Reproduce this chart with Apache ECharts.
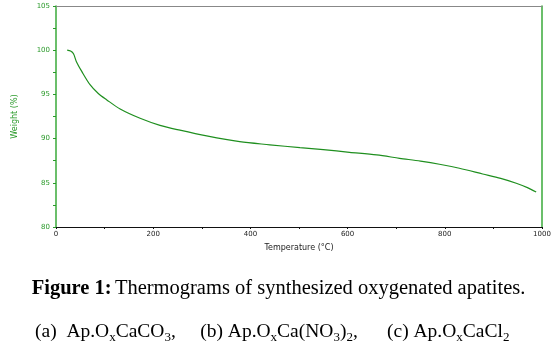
<!DOCTYPE html>
<html>
<head>
<meta charset="utf-8">
<script src="https://cdn.jsdelivr.net/npm/echarts@6/dist/echarts.min.js"></script>
<style>
  html, body { margin: 0; padding: 0; background: #fff; }
  #chart { width: 557px; height: 353px; }
</style>
</head>
<body>
<div id="chart"></div>
<script>
// temperature (°C) and weight (%)
var temps   = [23, 30, 36, 42, 53, 70, 87, 104, 132, 173, 214, 255, 310, 378, 440, 502, 550, 604, 660, 707, 750, 789, 830, 878, 915, 947, 970, 988];
var weights = [100.0, 99.9, 99.6, 98.7, 97.6, 96.1, 95.1, 94.4, 93.35, 92.3, 91.5, 90.95, 90.3, 89.65, 89.3, 88.97, 88.75, 88.45, 88.15, 87.77, 87.45, 87.1, 86.65, 86.0, 85.5, 84.95, 84.45, 83.95];
var xTicks = [0, 200, 400, 600, 800, 1000];

var points = temps.map(function (t, i) { return [t, weights[i]]; });

var green = '#2a9a2a';
var chart = echarts.init(document.getElementById('chart'));
var option = {
  animation: false,
  grid: { left: 56, right: 15, top: 6, bottom: 126 },
  xAxis: [{
    type: 'value', min: 0, max: 1000, interval: 200,
    name: 'Temperature (°C)', nameLocation: 'middle', nameGap: 17,
    nameTextStyle: { color: '#222', fontSize: 8, fontFamily: 'DejaVu Sans', letterSpacing: 1 },
    axisLine: { show: true, onZero: false, lineStyle: { color: '#111', width: 1 } },
    axisTick: { show: true, length: 2, lineStyle: { color: '#111' } },
    minorTick: { show: true, splitNumber: 2, length: 2, lineStyle: { color: '#111' } },
    axisLabel: { color: '#222', fontSize: 7, fontFamily: 'DejaVu Sans', margin: 4,
      formatter: function (v) { return xTicks.indexOf(v) >= 0 ? String(v) : ''; } },
    splitLine: { show: false }
  }, {
    type: 'value', position: 'top', min: 0, max: 1000,
    axisLine: { show: true, onZero: false, lineStyle: { color: '#888' } },
    axisTick: { show: false }, axisLabel: { show: false }, splitLine: { show: false }
  }],
  yAxis: [{
    type: 'value', min: 80, max: 105, interval: 5,
    name: 'Weight (%)', nameLocation: 'middle', nameGap: 37,
    nameTextStyle: { color: green, fontSize: 8, fontFamily: 'DejaVu Sans' },
    axisLine: { show: true, onZero: false, lineStyle: { color: '#3aaa3a', width: 1.5 } },
    axisTick: { show: true, length: 3, lineStyle: { color: green } },
    minorTick: { show: true, splitNumber: 2, length: 3, lineStyle: { color: green } },
    axisLabel: { color: green, fontSize: 7, fontFamily: 'DejaVu Sans', margin: 6,
      formatter: function (v) { return v.toFixed(0); } },
    splitLine: { show: false }
  }, {
    type: 'value', position: 'right', min: 80, max: 105,
    axisLine: { show: true, onZero: false, lineStyle: { color: '#3aaa3a', width: 1.5 } },
    axisTick: { show: false }, axisLabel: { show: false }, splitLine: { show: false }
  }],
  series: [{
    type: 'line', data: points, smooth: 0.3, symbol: 'none',
    lineStyle: { color: '#1f8f1f', width: 1.2 }
  }],
  graphic: [{
    type: 'text', left: 'center', top: 278,
    style: {
      text: '{b|Figure 1:} {n|Thermograms of synthesized oxygenated apatites.}',
      rich: {
        b: { fontFamily: 'Liberation Serif', fontSize: 20.5, fontWeight: 'bold', fill: '#000' },
        n: { fontFamily: 'Liberation Serif', fontSize: 20.5, fill: '#000' }
      }
    }
  }, {
    type: 'text', left: 35, top: 322,
    style: {
      text: '{n|(a)  Ap.O}{s|x}{n|CaCO}{s|3}{n|,     (b) Ap.O}{s|x}{n|Ca(NO}{s|3}{n|)}{s|2}{n|,      (c) Ap.O}{s|x}{n|CaCl}{s|2}',
      rich: {
        n: { fontFamily: 'Liberation Serif', fontSize: 19.5, fill: '#000', lineHeight: 22, verticalAlign: 'top' },
        s: { fontFamily: 'Liberation Serif', fontSize: 13, fill: '#000', lineHeight: 14, verticalAlign: 'bottom' }
      }
    }
  }]
};
chart.setOption(option);
</script>
</body>
</html>
